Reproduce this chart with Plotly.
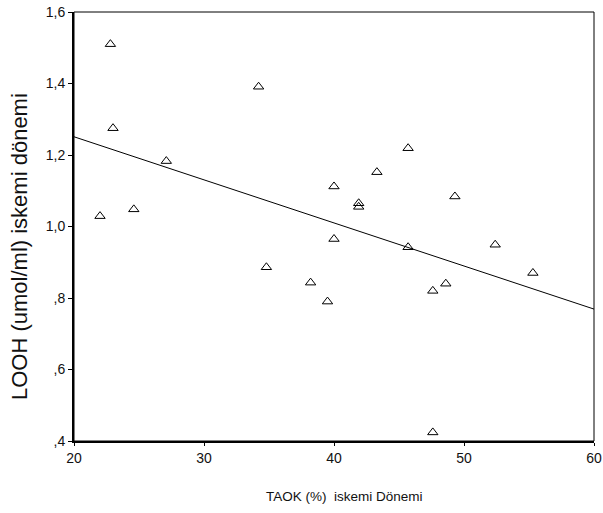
import plotly.graph_objects as go

# Data
taok = [22.8, 23.0, 27.1, 22.0, 24.6, 45.7, 43.3, 40.0, 41.9, 41.9, 40.0,
        45.7, 34.8, 38.2, 48.6, 47.6, 49.3, 52.4, 55.3, 34.2, 39.5, 47.6]
looh = [1.51, 1.275, 1.183, 1.029, 1.048, 1.219, 1.152, 1.112, 1.065, 1.055, 0.965,
        0.942, 0.886, 0.843, 0.840, 0.820, 1.084, 0.949, 0.870, 1.391, 0.790, 0.424]

# Fitted regression line
fit_intercept = 1.492
fit_slope = -0.01205
fit_x = [20, 60]

x_tickvals = [20, 30, 40, 50, 60]
x_ticktext = ["20", "30", "40", "50", "60"]
y_tickvals = [0.4, 0.6, 0.8, 1.0, 1.2, 1.4, 1.6]
y_ticktext = [",4", ",6", ",8", "1,0", "1,2", "1,4", "1,6"]

x_title = "TAOK (%)  iskemi Dönemi"
y_title = "LOOH (umol/ml) iskemi dönemi"

font_family = "Liberation Sans, Arial, sans-serif"

fig = go.Figure()

fig.add_trace(go.Scatter(
    x=fit_x,
    y=[fit_intercept + fit_slope * v for v in fit_x],
    mode="lines",
    line=dict(color="black", width=1),
    showlegend=False,
    hoverinfo="skip",
))

fig.add_trace(go.Scatter(
    x=taok, y=looh,
    mode="markers",
    marker=dict(symbol="triangle-up-open", size=9, color="black",
                line=dict(color="black", width=1)),
    showlegend=False,
))

fig.update_layout(
    width=603, height=513,
    margin=dict(l=74, r=9, t=12, b=72),
    paper_bgcolor="white",
    plot_bgcolor="white",
    font=dict(family=font_family, color="#111111", size=13),
    xaxis=dict(
        range=[20, 60], automargin=False,
        tickvals=x_tickvals, ticktext=x_ticktext,
        ticks="outside", ticklen=3, tickwidth=1, tickcolor="black",
        showline=True, linecolor="black", linewidth=2,
        showgrid=False, zeroline=False,
        tickfont=dict(size=14),
    ),
    yaxis=dict(
        range=[0.4, 1.6], automargin=False,
        tickvals=y_tickvals, ticktext=y_ticktext,
        ticks="outside", ticklen=4, tickwidth=1, tickcolor="black",
        showline=True, linecolor="black", linewidth=2,
        showgrid=False, zeroline=False,
        tickfont=dict(size=14),
    ),
    shapes=[dict(type="rect", xref="paper", yref="paper", x0=0, y0=0, x1=1, y1=1,
                 line=dict(color="black", width=1), layer="above")],
    annotations=[
        dict(text=x_title, xref="paper", yref="paper", x=0.521, y=-0.1305,
             showarrow=False, font=dict(size=13.5), xanchor="center", yanchor="middle"),
        dict(text=y_title, xref="paper", yref="paper", x=-0.1058, y=0.4545,
             showarrow=False, font=dict(size=22), textangle=-90,
             xanchor="center", yanchor="middle"),
    ],
)

fig.write_html("out.html")
